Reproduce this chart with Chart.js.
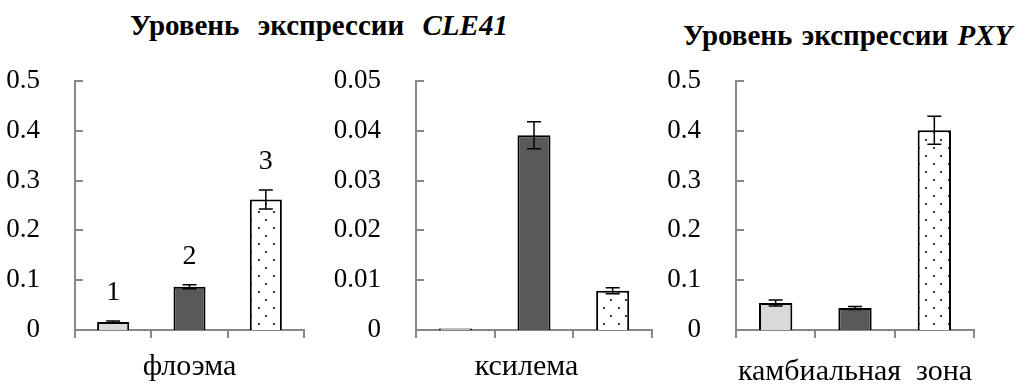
<!DOCTYPE html>
<html lang="ru">
<head>
<meta charset="UTF-8">
<title>Уровень экспрессии CLE41 и PXY</title>
<script src="https://cdn.jsdelivr.net/npm/chart.js"></script>
<style>
    * { margin: 0; padding: 0; box-sizing: border-box; }
    body {
        width: 1028px;
        height: 387px;
        background: #ffffff;
        position: relative;
        overflow: hidden;
        font-family: "Liberation Serif", "Times New Roman", serif;
    }
    canvas { position: absolute; top: 0; left: 0; }
    .title {
        position: absolute;
        font-weight: bold;
        font-size: 29px;
        line-height: 1;
        white-space: nowrap;
        word-spacing: 5px;
        color: #000000;
    }
</style>
</head>
<body>
<div class="title" style="left:130px; top:11px; word-spacing:11px;">Уровень экспрессии <i>CLE41</i></div>
<div class="title" style="left:683px; top:21px; word-spacing:2px;">Уровень экспрессии <i>PXY</i></div>
<canvas id="chart1" width="1028" height="387"></canvas>
<canvas id="chart2" width="1028" height="387"></canvas>
<canvas id="chart3" width="1028" height="387"></canvas>

<script>
    // data
    const groups = ['1', '2', '3'];

    const phloemValues = [0.016, 0.087, 0.262];
    const phloemErrors = [0.002, 0.004, 0.019];

    const xylemValues = [0.0003, 0.0391, 0.0079];
    const xylemErrors = [0, 0.0027, 0.0006];

    const cambiumValues = [0.054, 0.044, 0.401];
    const cambiumErrors = [0.006, 0.003, 0.028];

    const ticksBig = ['0', '0.1', '0.2', '0.3', '0.4', '0.5'];
    const ticksSmall = ['0', '0.01', '0.02', '0.03', '0.04', '0.05'];

    const AXIS_GREY = '#878787';
    const FONT = '"Liberation Serif", "Times New Roman", serif';

    // white fill with small dots for the third bar
    function dotPattern() {
        const c = document.createElement('canvas');
        c.width = 15;
        c.height = 16;
        const g = c.getContext('2d');
        g.fillStyle = '#ffffff';
        g.fillRect(0, 0, 15, 16);
        g.fillStyle = '#3a3a3a';
        g.fillRect(3, 3, 2, 2);
        g.fillRect(10, 11, 2, 2);
        return g.createPattern(c, 'repeat');
    }
    const dots = dotPattern();

    const errorBarPlugin = {
        id: 'errorBars',
        afterDatasetsDraw(chart, args, opts) {
            const ctx = chart.ctx;
            const y = chart.scales.y;
            const meta = chart.getDatasetMeta(0);
            const values = chart.data.datasets[0].data;
            ctx.save();
            ctx.strokeStyle = '#000000';
            ctx.lineWidth = 1.5;
            meta.data.forEach((bar, i) => {
                const e = opts.errors[i];
                if (!e) return;
                const top = y.getPixelForValue(values[i] + e);
                const bot = y.getPixelForValue(values[i] - e);
                ctx.beginPath();
                ctx.moveTo(bar.x, top);
                ctx.lineTo(bar.x, bot);
                ctx.moveTo(bar.x - 7, top);
                ctx.lineTo(bar.x + 7, top);
                ctx.moveTo(bar.x - 7, bot);
                ctx.lineTo(bar.x + 7, bot);
                ctx.stroke();
            });
            ctx.restore();
        }
    };

    // short ticks pointing into the plot from the y axis
    const innerTicksPlugin = {
        id: 'innerTicks',
        afterDraw(chart) {
            const ctx = chart.ctx;
            const y = chart.scales.y;
            const left = chart.chartArea.left;
            ctx.save();
            ctx.strokeStyle = AXIS_GREY;
            ctx.lineWidth = 2;
            y.ticks.forEach(t => {
                const py = Math.round(y.getPixelForValue(t.value));
                ctx.beginPath();
                ctx.moveTo(left, py);
                ctx.lineTo(left + 8, py);
                ctx.stroke();
            });
            ctx.restore();
        }
    };

    const groupLabelPlugin = {
        id: 'groupLabels',
        afterDatasetsDraw(chart, args, opts) {
            if (!opts.show) return;
            const ctx = chart.ctx;
            const y = chart.scales.y;
            const meta = chart.getDatasetMeta(0);
            const values = chart.data.datasets[0].data;
            ctx.save();
            ctx.fillStyle = '#000000';
            ctx.font = '28px ' + FONT;
            ctx.textAlign = 'center';
            ctx.textBaseline = 'middle';
            meta.data.forEach((bar, i) => {
                const top = y.getPixelForValue(values[i] + opts.errors[i]);
                ctx.fillText(groups[i], bar.x, top - 28);
            });
            ctx.restore();
        }
    };

    // area: chart area left and right edges in page pixels
    function makeChart(id, values, errors, max, step, tickLabels, xTitle, area, showGroups) {
        const ctx = document.getElementById(id).getContext('2d');
        return new Chart(ctx, {
            type: 'bar',
            data: {
                labels: groups,
                datasets: [{
                    data: values,
                    backgroundColor: ['#d9d9d9', '#595959', dots],
                    borderColor: '#000000',
                    borderWidth: 2,
                    borderSkipped: 'bottom',
                    categoryPercentage: 1,
                    barPercentage: 0.42
                }]
            },
            options: {
                responsive: false,
                animation: false,
                devicePixelRatio: 1,
                layout: {
                    padding: { left: 0, right: 1028 - area.right, top: 81, bottom: 0 }
                },
                plugins: {
                    legend: { display: false },
                    tooltip: { enabled: false },
                    errorBars: { errors: errors },
                    groupLabels: { show: showGroups, errors: errors }
                },
                scales: {
                    x: {
                        type: 'category',
                        offset: true,
                        afterFit: s => { s.height = 57; },
                        grid: {
                            offset: true,
                            drawOnChartArea: false,
                            drawTicks: true,
                            tickLength: 8,
                            color: AXIS_GREY,
                            lineWidth: 2
                        },
                        border: { color: AXIS_GREY, width: 2 },
                        ticks: { display: false },
                        title: {
                            display: true,
                            text: xTitle,
                            color: '#000000',
                            font: { family: FONT, size: 30, lineHeight: 1 },
                            padding: { top: 0, bottom: area.titleBottom }
                        }
                    },
                    y: {
                        min: 0,
                        max: max,
                        afterFit: s => { s.width = area.left; },
                        grid: { display: false },
                        border: { color: AXIS_GREY, width: 2 },
                        ticks: {
                            stepSize: step,
                            padding: 27,
                            color: '#000000',
                            font: { family: FONT, size: 27 },
                            callback: (v, i) => tickLabels[i]
                        }
                    }
                }
            },
            plugins: [errorBarPlugin, innerTicksPlugin, groupLabelPlugin]
        });
    }

    makeChart('chart1', phloemValues, phloemErrors, 0.5, 0.1, ticksBig,
        'флоэма', { left: 75, right: 304, titleBottom: 5 }, true);
    makeChart('chart2', xylemValues, xylemErrors, 0.05, 0.01, ticksSmall,
        'ксилема  ', { left: 416, right: 652, titleBottom: 5 }, false);
    makeChart('chart3', cambiumValues, cambiumErrors, 0.5, 0.1, ticksBig,
        'камбиальная  зона', { left: 736, right: 974, titleBottom: 0 }, false);
</script>
</body>
</html>
